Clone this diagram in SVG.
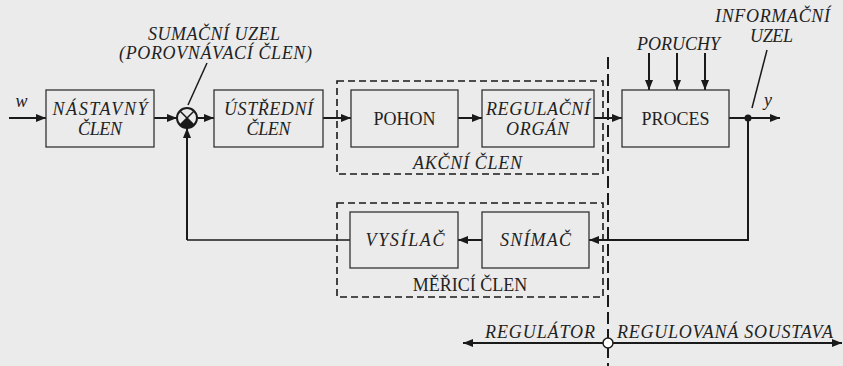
<svg xmlns="http://www.w3.org/2000/svg" width="843" height="366" viewBox="0 0 843 366" font-family="Liberation Serif, DejaVu Serif, serif">
  <defs>
    <marker id="arr" viewBox="0 0 10 8" refX="10" refY="4" markerWidth="10" markerHeight="8" markerUnits="userSpaceOnUse" orient="auto">
      <path d="M0,0 L10,4 L0,8 Z" fill="#1a1a1a"/>
    </marker>
    <style>
      .box { fill: #ebebeb; stroke: #333; stroke-width: 1.3; }
      .grp { fill: none; stroke: #1a1a1a; stroke-width: 1.6; stroke-dasharray: 7 4; }
      .div { fill: none; stroke: #1a1a1a; stroke-width: 2; stroke-dasharray: 12 5; }
      .ln  { fill: none; stroke: #1a1a1a; stroke-width: 2; }
      .lnt { fill: none; stroke: #1a1a1a; stroke-width: 1.5; }
      text { font-size: 18px; fill: #222; text-anchor: middle; }
      .i   { font-style: italic; }
    </style>
  </defs>

  <rect width="843" height="366" fill="#ebebeb"/>

  <!-- group outlines and the divider between controller and plant -->
  <g id="groups">
    <rect class="grp" x="337" y="81" width="266" height="93"/>
    <text class="i" x="467.5" y="169" textLength="109" lengthAdjust="spacing">AKČNÍ ČLEN</text>
    <rect class="grp" x="337" y="203" width="266" height="94"/>
    <text x="470" y="291">MĚŘICÍ ČLEN</text>
    <line class="div" x1="608" y1="57" x2="608" y2="366"/>
  </g>

  <!-- connectors -->
  <g id="connectors">
    <line class="ln" x1="9" y1="118" x2="46" y2="118" marker-end="url(#arr)"/>
    <line class="ln" x1="154" y1="118" x2="177" y2="118" marker-end="url(#arr)"/>
    <line class="ln" x1="197" y1="118" x2="214" y2="118" marker-end="url(#arr)"/>
    <line class="ln" x1="323" y1="118" x2="351" y2="118" marker-end="url(#arr)"/>
    <line class="ln" x1="458" y1="118" x2="482" y2="118" marker-end="url(#arr)"/>
    <line class="ln" x1="594" y1="118" x2="622" y2="118" marker-end="url(#arr)"/>
    <line class="ln" x1="729" y1="118" x2="780" y2="118" marker-end="url(#arr)"/>
    <line class="ln" x1="649" y1="53" x2="649" y2="90" marker-end="url(#arr)"/>
    <line class="ln" x1="677" y1="53" x2="677" y2="90" marker-end="url(#arr)"/>
    <line class="ln" x1="705" y1="53" x2="705" y2="90" marker-end="url(#arr)"/>
    <polyline class="ln" points="748,118 748,240 589,240" marker-end="url(#arr)"/>
    <line class="ln" x1="482" y1="240" x2="458" y2="240" marker-end="url(#arr)"/>
    <line class="lnt" x1="350" y1="240" x2="187" y2="240"/>
    <line class="ln" x1="187" y1="240" x2="187" y2="128" marker-end="url(#arr)"/>
    <circle cx="748" cy="118" r="3.5" fill="#1a1a1a"/>
    <!-- leader lines -->
    <line class="lnt" x1="188" y1="105" x2="207" y2="63"/>
    <line class="lnt" x1="767" y1="50" x2="752" y2="108"/>
    <!-- controller / plant scope arrow -->
    <line class="ln" x1="608" y1="343" x2="463" y2="343" marker-end="url(#arr)"/>
    <line class="ln" x1="608" y1="343" x2="842" y2="343" marker-end="url(#arr)"/>
    <circle cx="608" cy="343" r="5" fill="#fff" stroke="#1a1a1a" stroke-width="1.5"/>
  </g>

  <g id="sum-node">
    <circle cx="187" cy="118" r="10" fill="#ebebeb" stroke="#1a1a1a" stroke-width="2"/>
    <path d="M187,118 L194.07,125.07 A10,10 0 0 1 179.93,125.07 Z" fill="#1a1a1a"/>
    <line class="lnt" x1="179.93" y1="110.93" x2="194.07" y2="125.07"/>
    <line class="lnt" x1="194.07" y1="110.93" x2="179.93" y2="125.07"/>
  </g>

  <g id="nastavny">
    <rect class="box" x="46" y="90" width="108" height="57"/>
    <text class="i" x="100" y="115" textLength="95" lengthAdjust="spacing">NÁSTAVNÝ</text>
    <text class="i" x="100" y="135" textLength="44" lengthAdjust="spacing">ČLEN</text>
  </g>

  <g id="ustredni">
    <rect class="box" x="214" y="90" width="109" height="57"/>
    <text class="i" x="268.5" y="115" textLength="89" lengthAdjust="spacing">ÚSTŘEDNÍ</text>
    <text class="i" x="268.5" y="135" textLength="44" lengthAdjust="spacing">ČLEN</text>
  </g>

  <g id="pohon">
    <rect class="box" x="351" y="90" width="107" height="57"/>
    <text x="404.5" y="125">POHON</text>
  </g>

  <g id="regulacni-organ">
    <rect class="box" x="482" y="90" width="112" height="57"/>
    <text class="i" x="538" y="115" textLength="104" lengthAdjust="spacing">REGULAČNÍ</text>
    <text class="i" x="537.5" y="135" textLength="63" lengthAdjust="spacing">ORGÁN</text>
  </g>

  <g id="proces">
    <rect class="box" x="622" y="90" width="107" height="57"/>
    <text x="675.5" y="125">PROCES</text>
  </g>

  <g id="vysilac">
    <rect class="box" x="350" y="212" width="108" height="56"/>
    <text class="i" x="405" y="246" textLength="79" lengthAdjust="spacing">VYSÍLAČ</text>
  </g>

  <g id="snimac">
    <rect class="box" x="482" y="212" width="107" height="56"/>
    <text class="i" x="535.5" y="246" textLength="71" lengthAdjust="spacing">SNÍMAČ</text>
  </g>

  <g id="labels">
    <text class="i" x="214" y="40" textLength="132" lengthAdjust="spacing">SUMAČNÍ UZEL</text>
    <text class="i" x="215.5" y="59" textLength="193" lengthAdjust="spacing">(POROVNÁVACÍ ČLEN)</text>
    <text class="i" x="21.5" y="107">w</text>
    <text class="i" x="678.5" y="50" textLength="83" lengthAdjust="spacing">PORUCHY</text>
    <text class="i" x="772.5" y="22" textLength="115" lengthAdjust="spacing">INFORMAČNÍ</text>
    <text class="i" x="771.5" y="42" textLength="43" lengthAdjust="spacing">UZEL</text>
    <text class="i" x="768" y="106">y</text>
    <text class="i" x="540" y="338" textLength="110" lengthAdjust="spacing">REGULÁTOR</text>
    <text class="i" x="725" y="338" textLength="216" lengthAdjust="spacing">REGULOVANÁ SOUSTAVA</text>
  </g>
</svg>
